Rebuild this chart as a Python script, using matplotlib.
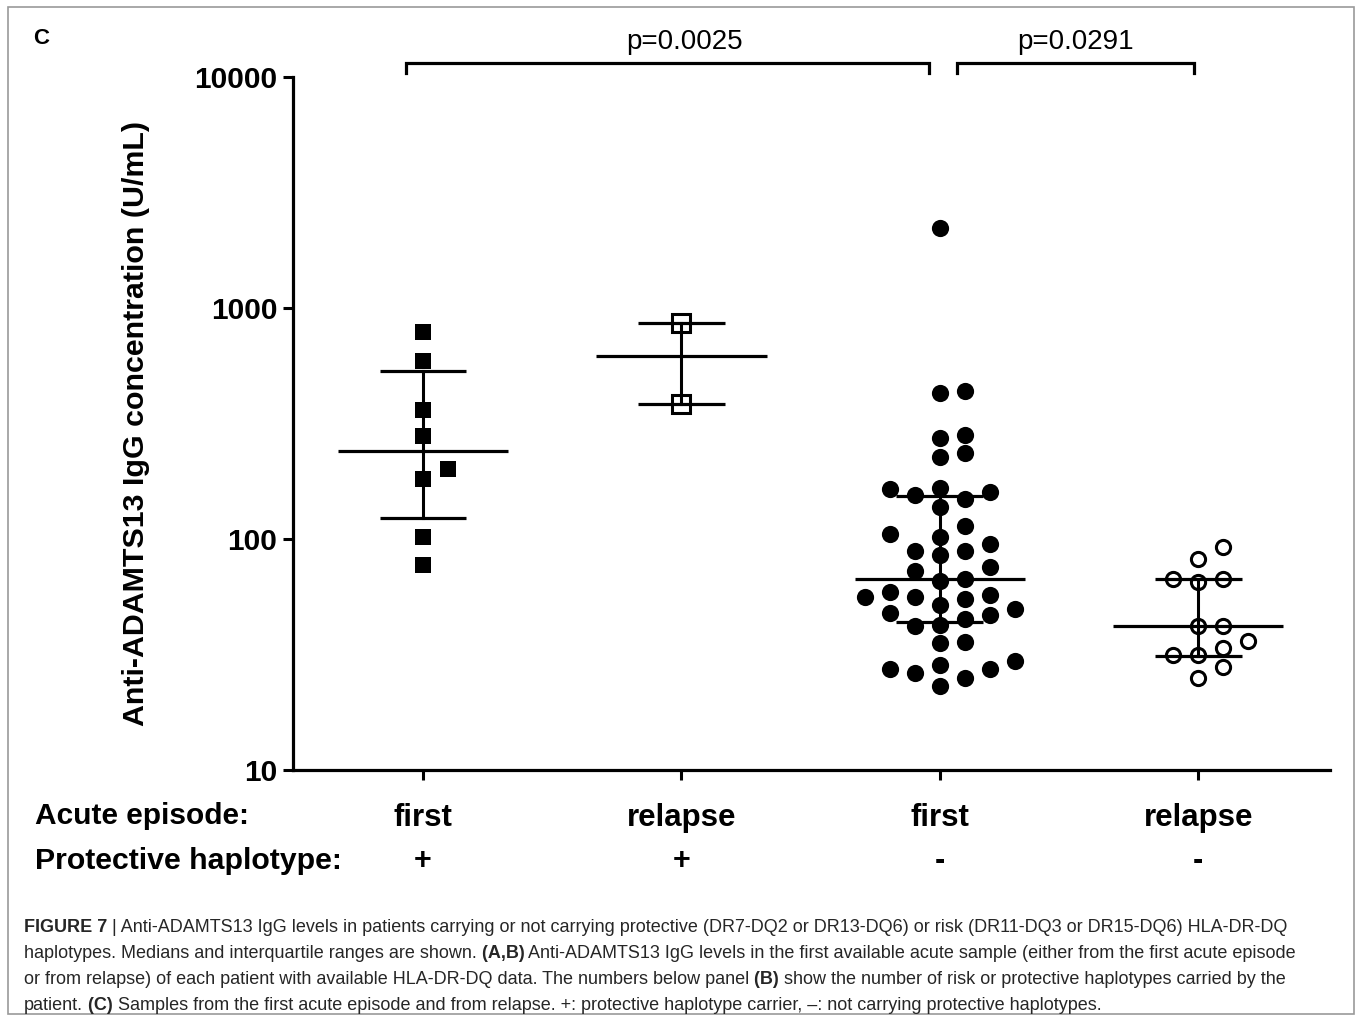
import numpy as np
import matplotlib
matplotlib.use("Agg")
import matplotlib.pyplot as plt
from matplotlib.ticker import NullLocator
from matplotlib.patches import Rectangle

plt.rcParams['font.family'] = ['Liberation Sans', 'DejaVu Sans']

# values (U/mL)
first_pos = [787, 590, 361, 279, 201, 182, 102, 77]
relapse_pos = [861, 384]
first_neg = [2220, 439, 428, 282, 275, 235, 226, 167, 164, 160, 155, 149, 138,
             114, 105, 102, 95, 89, 89, 85, 76, 73, 67, 66, 59, 57, 56, 56, 55,
             52, 50, 48, 47, 45, 42.4, 42, 35.9, 35.3, 29.7, 28.5, 27.5, 27.4,
             26.4, 24.9, 23.0]
relapse_neg = [92.7, 81.7, 66.9, 65.3, 66.9, 42.0, 42.0, 36.3, 33.6, 31.4, 31.4,
               28.0, 24.9]

medians = [240, 622, 67, 42]
q1 = [123, 384, 43.6, 31.0]
q3 = [534, 861, 153.5, 67]

episode = ['first', 'relapse', 'first', 'relapse']
haplotype = ['+', '+', '-', '-']
pvals = ['p=0.0025', 'p=0.0291']

W, H = 1356, 1019
fig = plt.figure(figsize=(W / 100, H / 100), dpi=100)
ax = fig.add_axes([293 / W, 1 - 770 / H, (1330 - 293) / W, (770 - 77) / H])
ax.set_yscale('log')
ax.set_ylim(10, 10000)
ax.set_xlim(0.497, 4.51)

groups = [first_pos, relapse_pos, first_neg, relapse_neg]
styles = [dict(marker='s', ms=12.2, mfc='black', mec='black', mew=0),
          dict(marker='s', ms=13.5, mfc='white', mec='black', mew=2.2),
          dict(marker='o', ms=12.4, mfc='black', mec='black', mew=0),
          dict(marker='o', ms=10.2, mfc='white', mec='black', mew=2.2)]

# simple swarm: lanes around the centre, no overlap in pixel space
px_per_dec = (770 - 77) / 3.0
lane = 0.0967
order = [0, 1, -1, 2, -2, 3, -3, 4, -4]


def swarm(vals, gap=18):
    vals = np.asarray(vals, float)
    idx = np.argsort(vals)
    placed = {}
    offs = np.zeros(len(vals))
    for i in idx:
        ypx = np.log10(vals[i]) * px_per_dec
        for k in order:
            if all(abs(ypx - o) >= gap for o in placed.get(k, [])):
                placed.setdefault(k, []).append(ypx)
                offs[i] = k * lane
                break
    return offs


for g, (vals, st) in enumerate(zip(groups, styles)):
    xc = g + 1
    xs = xc + swarm(vals)
    ax.plot(xs, vals, ls='none', zorder=2, **st)
    ax.plot([xc - 0.33, xc + 0.33], [medians[g]] * 2, color='black', lw=2.3,
            zorder=3, solid_capstyle='butt')
    ax.plot([xc, xc], [q1[g], q3[g]], color='black', lw=2.2, zorder=3)
    for q in (q1[g], q3[g]):
        ax.plot([xc - 0.168, xc + 0.168], [q, q], color='black', lw=2.3,
                zorder=3, solid_capstyle='butt')

ax.set_yticks([10, 100, 1000, 10000])
ax.set_yticklabels(['10', '100', '1000', '10000'], fontsize=21.5, fontweight='bold')
ax.yaxis.set_minor_locator(NullLocator())
ax.set_xticks([1, 2, 3, 4])
ax.set_xticklabels(episode, fontsize=22.5, fontweight='bold')
ax.tick_params(axis='both', width=2.2, length=7.2, color='black')
ax.tick_params(axis='y', pad=4)
ax.tick_params(axis='x', pad=16.5)
for s in ['top', 'right']:
    ax.spines[s].set_visible(False)
for s in ['left', 'bottom']:
    ax.spines[s].set_linewidth(2.3)

# haplotype row
trans = ax.get_xaxis_transform()
for i, h in enumerate(haplotype):
    ax.text(i + 1, (770 - 861) / 693, h, transform=trans, ha='center',
            va='center', fontsize=22, fontweight='bold')

fig.text(35 / W, 1 - 816 / H, 'Acute episode:', fontsize=21.5,
         fontweight='bold', va='center', ha='left')
fig.text(35 / W, 1 - 861 / H, 'Protective haplotype:', fontsize=21.8,
         fontweight='bold', va='center', ha='left')

fig.text(136 / W, 1 - 424 / H, 'Anti-ADAMTS13 IgG concentration (U/mL)',
         rotation=90, fontsize=21.9, fontweight='bold', ha='center', va='center')

# significance brackets
brackets = [(0.934, 3.0 - 0.04), (3.066, 3.985)]
yb, yt = (770 - 63) / 693, (770 - 73) / 693
for (x0, x1), p in zip(brackets, pvals):
    ax.plot([x0, x0, x1, x1], [yt, yb, yb, yt], transform=trans, color='black',
            lw=2.3, clip_on=False, solid_joinstyle='miter')
ax.text(2.013, (770 - 49) / 693, pvals[0], transform=trans, ha='center',
        va='baseline', fontsize=20)
ax.text(3.525, (770 - 49) / 693, pvals[1], transform=trans, ha='center',
        va='baseline', fontsize=20)

fig.text(41 / W, 1 - 38 / H, 'C', fontsize=16, fontweight='bold',
         ha='center', va='center')

# border
fig.add_artist(Rectangle((8 / W, 1 - 1014 / H), (1354 - 8) / W, (1014 - 7) / H,
                         transform=fig.transFigure, fill=False,
                         edgecolor='#9a9a9a', lw=1.2))

# caption with bold runs
cap_lines = [
    [("FIGURE 7", True), (" | Anti-ADAMTS13 IgG levels in patients carrying or not carrying protective (DR7-DQ2 or DR13-DQ6) or risk (DR11-DQ3 or DR15-DQ6) HLA-DR-DQ", False)],
    [("haplotypes. Medians and interquartile ranges are shown.", False), (" (A,B)", True), (" Anti-ADAMTS13 IgG levels in the first available acute sample (either from the first acute episode", False)],
    [("or from relapse) of each patient with available HLA-DR-DQ data. The numbers below panel", False), (" (B)", True), (" show the number of risk or protective haplotypes carried by the", False)],
    [("patient.", False), (" (C)", True), (" Samples from the first acute episode and from relapse. +: protective haplotype carrier, \u2013: not carrying protective haplotypes.", False)],
]
cap_y = [928, 954, 980, 1006]
cap_font = ['Liberation Sans Narrow', 'Liberation Sans', 'DejaVu Sans']
renderer = fig.canvas.get_renderer()
for parts, yy in zip(cap_lines, cap_y):
    x = 24 / W
    for txt, bold in parts:
        t = fig.text(x, 1 - yy / H, txt, fontsize=12.95, family=cap_font,
                     fontweight='bold' if bold else 'normal', color='#262626',
                     ha='left', va='center')
        x += t.get_window_extent(renderer).width / W

fig.savefig('out.png', dpi=100)
